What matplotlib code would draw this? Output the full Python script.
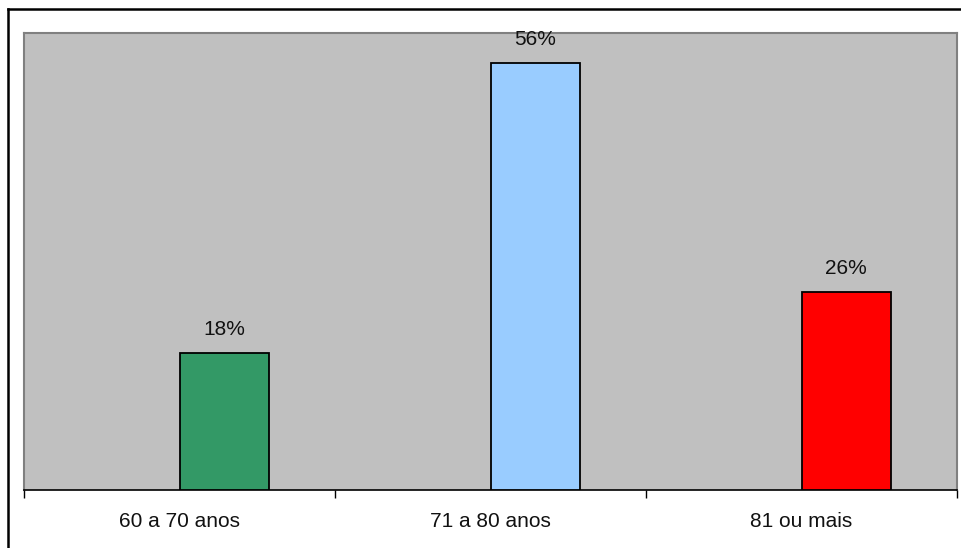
import matplotlib
matplotlib.use('Agg')
import matplotlib.pyplot as plt
from matplotlib.lines import Line2D
import numpy as np

plt.rcParams['font.family'] = ['Liberation Sans', 'DejaVu Sans']

categories = ['60 a 70 anos', '71 a 80 anos', '81 ou mais']
values = [18, 56, 26]
labels = ['18%', '56%', '26%']
colors = ['#339966', '#99CCFF', '#FF0000']

fig = plt.figure(figsize=(9.61, 5.48), dpi=100)
ax = fig.add_axes([24 / 961, 58 / 548, 933 / 961, 457 / 548])
ax.set_facecolor('#C0C0C0')

x = np.arange(len(categories))
ax.bar(x, values, width=0.287, align='edge', color=colors,
       edgecolor='black', linewidth=1.3, zorder=3)

for xi, v, lab in zip(x, values, labels):
    ax.annotate(lab, (xi + 0.1435, v), xytext=(0, 13), textcoords='offset points',
                ha='center', va='baseline', fontsize=15, color='#111111')

ax.set_xlim(-0.5, len(categories) - 0.5)
ax.set_ylim(0, 60)

# category boundaries as ticks, labels in the middle
ax.set_xticks(np.arange(len(categories) + 1) - 0.5)
ax.set_xticklabels([])
ax.set_xticks(x, minor=True)
ax.set_xticklabels(categories, minor=True, fontsize=15, color='#111111')
ax.tick_params(axis='x', which='major', direction='out', length=6, width=1, color='black')
ax.tick_params(axis='x', which='minor', length=0, pad=16)
ax.set_yticks([])

for side in ['top', 'right', 'left']:
    ax.spines[side].set_color('#808080')
    ax.spines[side].set_linewidth(1.5)
ax.spines['bottom'].set_color('black')
ax.spines['bottom'].set_linewidth(1.2)

# outer frame (clipped at right and bottom like the original)
fig.add_artist(Line2D([8 / 961, 8 / 961], [0, 1 - 9 / 548], color='black', linewidth=1.8,
                      transform=fig.transFigure))
fig.add_artist(Line2D([8 / 961, 1], [1 - 9 / 548, 1 - 9 / 548], color='black', linewidth=1.8,
                      transform=fig.transFigure))

fig.savefig('out.png', dpi=100)
